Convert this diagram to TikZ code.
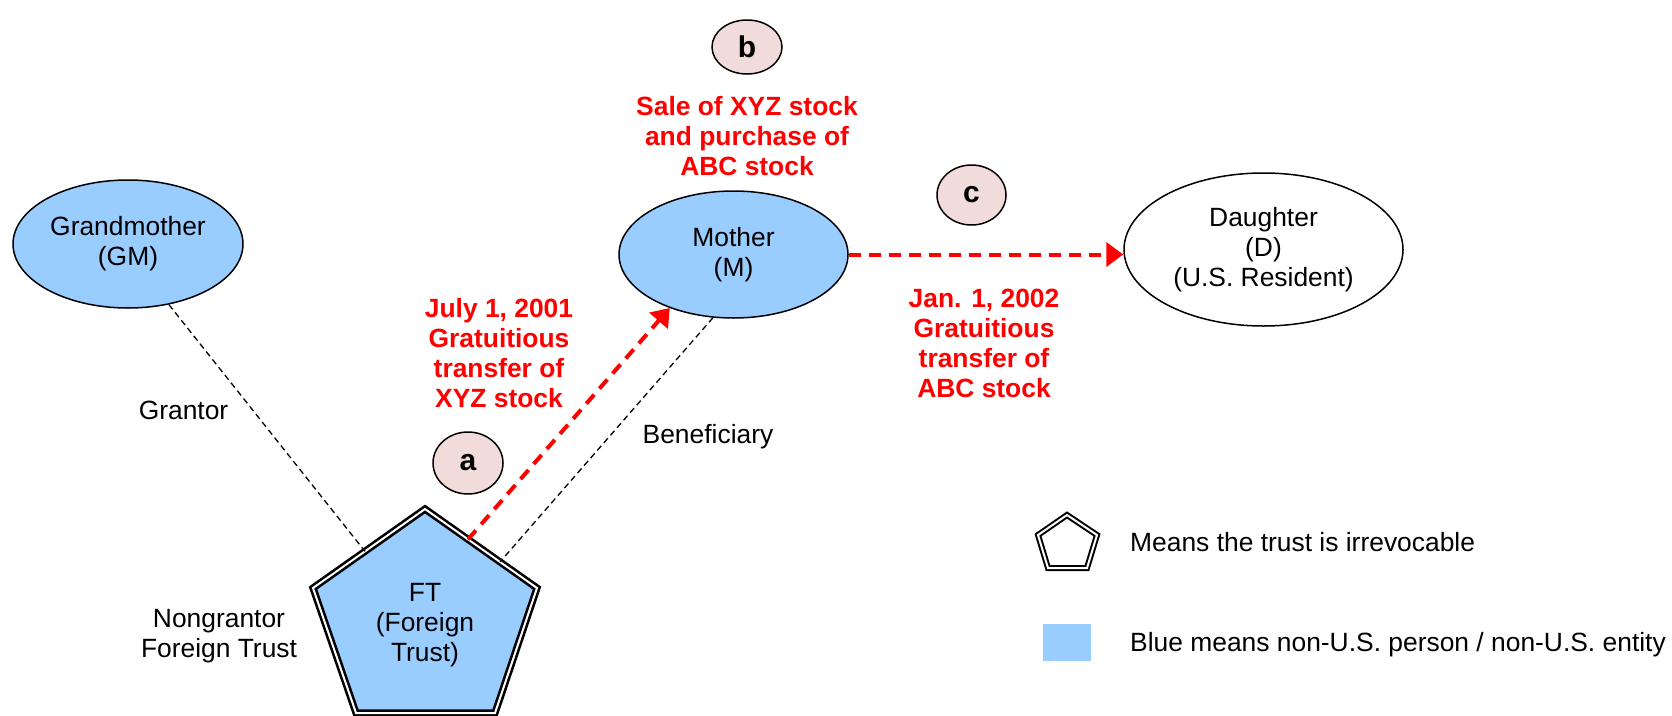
\documentclass[tikz,border=0pt]{standalone}
\usepackage{fontspec}
\setmainfont{Liberation Sans}
\usetikzlibrary{shapes.geometric,arrows.meta,calc}
\definecolor{nonus}{HTML}{99CCFF}
\definecolor{stepfill}{HTML}{F2DCDB}
\definecolor{xred}{HTML}{FF0000}
\begin{document}
\begin{tikzpicture}[x=1pt,y=-1pt,
  every node/.style={font=\fontsize{26.4}{30}\selectfont, inner sep=0pt},
  person/.style={ellipse, draw, line width=1.5pt, fill=nonus, align=center},
  stepmark/.style={ellipse, draw, line width=1.5pt, fill=stepfill, font=\fontsize{30}{30}\selectfont\bfseries},
  redlabel/.style={text=xred, align=center, font=\fontsize{26.4}{30}\selectfont\bfseries, anchor=base},
  plain/.style={align=center, anchor=base},
  tie/.style={draw, line width=1.3pt, dash pattern=on 6pt off 4pt},
  transfer/.style={draw=xred, line width=4pt, dash pattern=on 12pt off 8pt, -{Triangle[length=17pt,width=24pt]}},
  trustline/.style={draw, double=white, double distance=2pt, line width=2.6pt, line join=miter}
]
\useasboundingbox (0,0) rectangle (1672,715);

% people
\node[person, minimum width=230pt, minimum height=128pt] (GM) at (128,244) {Grandmother\\(GM)};
\node[person, minimum width=229pt, minimum height=127pt] (M) at (733.5,254.5) {Mother\\(M)};
\node[person, fill=white, minimum width=279pt, minimum height=153pt] (D) at (1263.5,249.5) {Daughter\\(D)\\(U.S. Resident)};

% trust pentagon
\coordinate (P1) at (425,509);
\coordinate (P2) at (537,588);
\coordinate (P3) at (495,713);
\coordinate (P4) at (356,713);
\coordinate (P5) at (313,588);
\path[fill=nonus, trustline] (P1) -- (P2) -- (P3) -- (P4) -- (P5) -- cycle;
\node[plain] (FT) at (425,661) {FT\\(Foreign\\Trust)};
\coordinate (FTg) at ($(P1)!0.536!(P5)$);
\coordinate (FTa) at ($(P1)!0.384!(P2)$);
\coordinate (FTb) at ($(P1)!0.67!(P2)$);

% step markers
\node[stepmark, minimum width=70pt, minimum height=62pt] (sa) at (468,463) {a};
\node[stepmark, minimum width=70pt, minimum height=54pt] (sb) at (747,47) {b};
\node[stepmark, minimum width=69pt, minimum height=60pt] (sc) at (971.5,195) {c};

% labels (anchor = baseline of last line)
\node[redlabel] (lb) at (747,175) {Sale of XYZ stock\\and purchase of\\ABC stock};
\node[redlabel] (la) at (499,407) {July 1, 2001\\Gratuitious\\transfer of\\XYZ stock};
\node[redlabel] (lc) at (984,397) {Jan. 1, 2002\\Gratuitious\\transfer of\\ABC stock};
\node[plain] (grantor) at (183.5,419) {Grantor};
\node[plain] (benef) at (708,443) {Beneficiary};
\node[plain] (ngft) at (219,657) {Nongrantor\\Foreign Trust};

% connectors
\draw[tie] (GM.304) -- (FTg);
\draw[tie] (M.252) -- (FTb);
\draw[transfer] (FTa) -- (M.220);
\draw[transfer] (M.east) -- (D.west |- M.east);

% legend
\coordinate (L1) at (1067,515);
\coordinate (L2) at (1097,535);
\coordinate (L3) at (1087,568);
\coordinate (L4) at (1048,568);
\coordinate (L5) at (1038,535);
\path[fill=white, trustline, line width=2pt] (L1) -- (L2) -- (L3) -- (L4) -- (L5) -- cycle;
\node[anchor=base west] (irrev) at (1130,551) {Means the trust is irrevocable};
\node[fill=nonus, minimum width=48pt, minimum height=37pt] (bluekey) at (1067,642.5) {};
\node[anchor=base west] (bluetxt) at (1130,651) {Blue means non-U.S. person / non-U.S. entity};
\end{tikzpicture}
\end{document}
